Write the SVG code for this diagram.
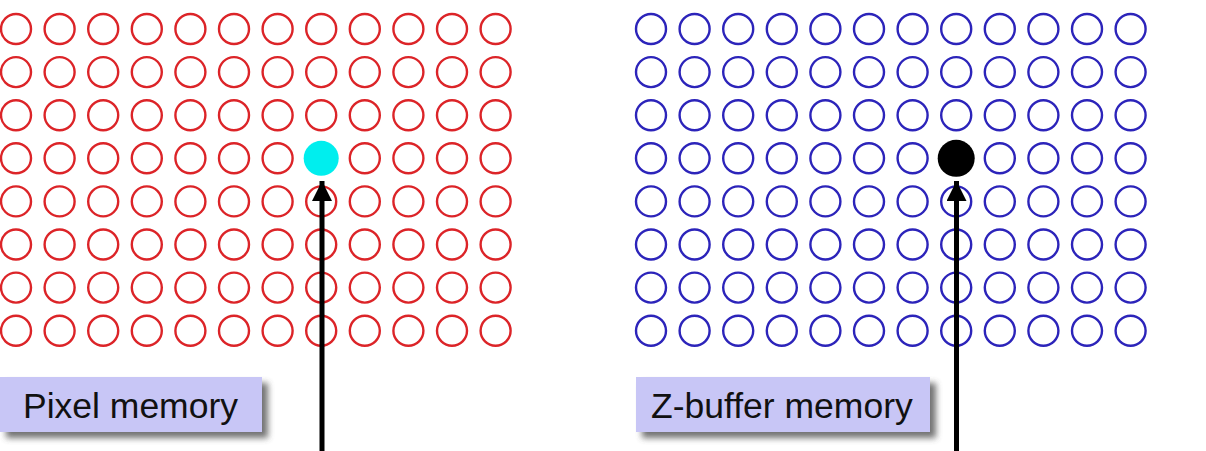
<svg xmlns="http://www.w3.org/2000/svg" xmlns:xlink="http://www.w3.org/1999/xlink" width="1206" height="451" viewBox="0 0 1206 451">
<style>
.red{fill:none;stroke:#dc2428;stroke-width:2.4}
.blue{fill:none;stroke:#2c24ba;stroke-width:2.4}
.box{fill:#c8c6f6}
.shadow{fill:#444;opacity:0.75}
.lbl{font-family:"Liberation Sans",Arial,sans-serif;font-size:35.5px;fill:#111}
.shaft{stroke:#000;stroke-width:5;fill:none}
</style>
<defs>
<filter id="blur" x="-20%" y="-50%" width="140%" height="200%"><feGaussianBlur stdDeviation="3"/></filter>
<marker id="ah" markerUnits="userSpaceOnUse" markerWidth="20" markerHeight="20" refX="20" refY="10" orient="auto"><path d="M0,0 L20,10 L0,20 Z" fill="#000"/></marker>
<g id="rowR">
<circle class="red" cx="16" cy="0" r="15"/><circle class="red" cx="59.6" cy="0" r="15"/><circle class="red" cx="103.2" cy="0" r="15"/><circle class="red" cx="146.8" cy="0" r="15"/><circle class="red" cx="190.4" cy="0" r="15"/><circle class="red" cx="234" cy="0" r="15"/><circle class="red" cx="277.6" cy="0" r="15"/><circle class="red" cx="321.2" cy="0" r="15"/><circle class="red" cx="364.8" cy="0" r="15"/><circle class="red" cx="408.4" cy="0" r="15"/><circle class="red" cx="452" cy="0" r="15"/><circle class="red" cx="495.6" cy="0" r="15"/>
</g>
<g id="rowB">
<circle class="blue" cx="651" cy="0" r="15"/><circle class="blue" cx="694.6" cy="0" r="15"/><circle class="blue" cx="738.2" cy="0" r="15"/><circle class="blue" cx="781.8" cy="0" r="15"/><circle class="blue" cx="825.4" cy="0" r="15"/><circle class="blue" cx="869" cy="0" r="15"/><circle class="blue" cx="912.6" cy="0" r="15"/><circle class="blue" cx="956.2" cy="0" r="15"/><circle class="blue" cx="999.8" cy="0" r="15"/><circle class="blue" cx="1043.4" cy="0" r="15"/><circle class="blue" cx="1087" cy="0" r="15"/><circle class="blue" cx="1130.6" cy="0" r="15"/>
</g>
</defs>
<rect width="1206" height="451" fill="#fff"/>
<g id="pixel-memory-grid">
<use xlink:href="#rowR" y="29"/><use xlink:href="#rowR" y="72.1"/><use xlink:href="#rowR" y="115.2"/><use xlink:href="#rowR" y="158.3"/>
<use xlink:href="#rowR" y="201.4"/><use xlink:href="#rowR" y="244.5"/><use xlink:href="#rowR" y="287.6"/><use xlink:href="#rowR" y="330.7"/>
<circle id="pixel-cell" cx="321.2" cy="158.3" r="17.5" fill="#00eeee"/>
</g>
<g id="zbuffer-memory-grid">
<use xlink:href="#rowB" y="29"/><use xlink:href="#rowB" y="72.1"/><use xlink:href="#rowB" y="115.2"/><use xlink:href="#rowB" y="158.3"/>
<use xlink:href="#rowB" y="201.4"/><use xlink:href="#rowB" y="244.5"/><use xlink:href="#rowB" y="287.6"/><use xlink:href="#rowB" y="330.7"/>
<circle id="zbuffer-cell" cx="956.2" cy="158.3" r="18.5" fill="#000"/>
</g>
<g id="pixel-memory-label">
<rect class="shadow" x="6" y="383" width="262" height="55" filter="url(#blur)"/>
<rect class="box" x="0" y="377" width="262" height="55"/>
<text class="lbl" x="23" y="418">Pixel memory</text>
</g>
<g id="zbuffer-memory-label">
<rect class="shadow" x="642" y="383" width="294" height="55" filter="url(#blur)"/>
<rect class="box" x="636" y="377" width="294" height="55"/>
<text class="lbl" x="651" y="418">Z-buffer memory</text>
</g>
<g id="connectors">
<line class="shaft" x1="322" y1="451" x2="322" y2="181" marker-end="url(#ah)"/>
<line class="shaft" x1="956.5" y1="451" x2="956.5" y2="181" marker-end="url(#ah)"/>
</g>
</svg>
